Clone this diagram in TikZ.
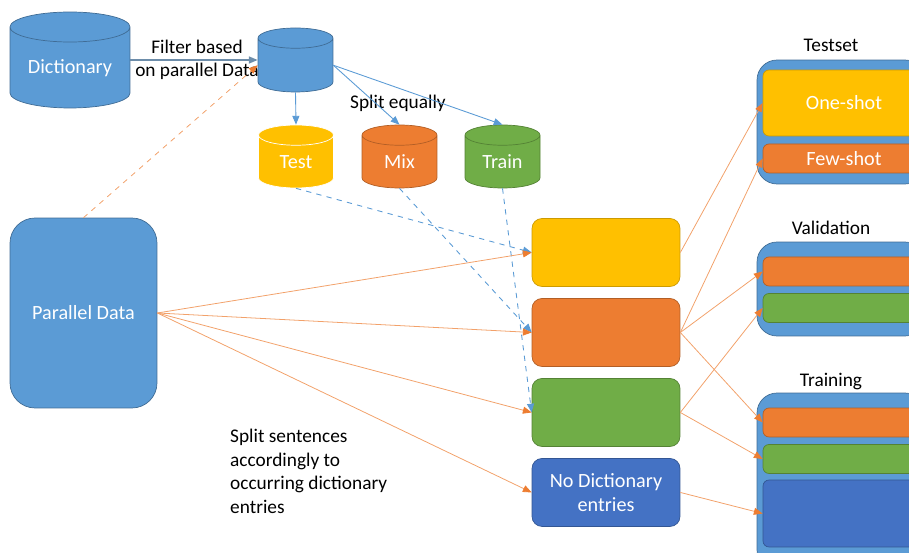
\documentclass[tikz,border=0pt]{standalone}
\usepackage{fontspec}
\setmainfont{Carlito}
\usetikzlibrary{shapes.geometric, arrows.meta, positioning}
\definecolor{mblue}{HTML}{5B9BD5}
\definecolor{dblue}{HTML}{4472C4}
\definecolor{myellow}{HTML}{FFC000}
\definecolor{morange}{HTML}{ED7D31}
\definecolor{mgreen}{HTML}{70AD47}
\definecolor{lorange}{HTML}{F4B183}
\tikzstyle{db} = [cylinder, shape border rotate=90, aspect=0.27, anchor=shape center, inner xsep=0pt, text width=1.5cm, align=center, draw=mblue!70!black, fill=mblue, text=white, font=\fontsize{11.5}{13}\selectfont]
\tikzstyle{block} = [rectangle, rounded corners=0.2cm, minimum width=2.96cm, minimum height=1.36cm, text centered, text=white, font=\fontsize{11.5}{13.4}\selectfont]
\tikzstyle{holder} = [rectangle, rounded corners=0.4cm, minimum width=3.36cm, draw=mblue!70!black, fill=mblue]
\tikzstyle{part} = [rectangle, rounded corners=0.12cm, minimum width=3.24cm, minimum height=0.58cm, text=white, font=\fontsize{11.5}{13}\selectfont]
\tikzstyle{title} = [font=\fontsize{11}{13.4}\selectfont, align=center]
\tikzstyle{arrow} = [-{Triangle[length=5pt,width=4pt]}]
\tikzstyle{splitline} = [-{Triangle[length=5pt,width=4pt,color=morange]}, lorange!70!morange, line width=0.45pt]
\tikzstyle{dbline} = [arrow, mblue, line width=0.5pt]

\begin{document}
\begin{tikzpicture}[x=0.02cm, y=-0.02cm, node distance=1.6cm]
        \useasboundingbox (0,0) rectangle (909,553);
        \begin{scope}
        \clip (0,0) rectangle (909,553);
        % sources
        \node (dict) [db, aspect=0.25, text width=2.4cm, minimum height=1.92cm] at (70,60) {Dictionary};
        \node (filt) [db, minimum height=1.28cm] at (295.5,60) {};
        \node (test) [db, draw=white, fill=myellow, minimum height=1.26cm] at (296,156.5) {Test};
        \node (mix) [db, draw=morange!75!black, fill=morange, minimum height=1.26cm] at (399.5,156.5) {Mix};
        \node (train) [db, draw=mgreen!75!black, fill=mgreen, minimum height=1.26cm] at (502.5,156.5) {Train};
        \node (par) [block, rounded corners=0.5cm, minimum width=2.94cm, minimum height=3.8cm, draw=mblue!70!black, fill=mblue] at (83.5,313) {Parallel Data};

        % split by dictionary entries
        \node (yel) [block, draw=myellow!80!black, fill=myellow] at (606,252.5) {};
        \node (ora) [block, draw=morange!75!black, fill=morange, below of = yel] {};
        \node (gre) [block, draw=mgreen!75!black, fill=mgreen, below of = ora] {};
        \node (nodict) [block, draw=dblue!75!black, fill=dblue, below of = gre, align=center] {No Dictionary\\entries};

        % sets on the right
        \node (testset) [holder, minimum height=2.48cm] at (841,122) {};
        \node (oneshot) [part, minimum height=1.32cm, draw=myellow!80!black, fill=myellow] at (844,103) {One-shot};
        \node (fewshot) [part, draw=morange!75!black, fill=morange] at (844,158.5) {Few-shot};
        \node (valset) [holder, minimum height=1.88cm] at (841,289) {};
        \node (valora) [part, draw=morange!75!black, fill=morange] at (844,271.5) {};
        \node (valgre) [part, draw=mgreen!75!black, fill=mgreen] at (844,308) {};
        \node (trset) [holder, minimum height=3.54cm] at (841,481.5) {};
        \node (trora) [part, draw=morange!75!black, fill=morange] at (844,422.5) {};
        \node (trgre) [part, draw=mgreen!75!black, fill=mgreen] at (844,459) {};
        \node (trblu) [part, minimum height=1.34cm, draw=dblue!75!black, fill=dblue] at (844,513.5) {};
        \end{scope}

        % titles and notes
        \node (ttest) [title] at (831,45) {Testset};
        \node (tval) [title] at (831,228) {Validation};
        \node (ttrain) [title] at (831,382) {Training};
        \node (filtlbl) [title] at (197,60) {Filter based\\on parallel Data};
        \node (splitlbl) [title] at (398,103) {Split equally};
        \node (notelbl) [title, align=left, anchor=north west] at (224,423) {Split sentences\\accordingly to\\occurring dictionary\\entries};

        % connectors
        \draw[arrow, mblue!50!gray, line width=0.8pt] (dict.shape center -| dict.east) -- (filt.shape center -| filt.west);
        \draw[splitline, dashed] (par.north) -- (filt.west);
        \draw[dbline] (filt.south) -- (test.north);
        \draw[dbline] (filt.east) -- (mix.north);
        \draw[dbline] (filt.east) -- (train.north);
        \draw[dbline, dashed] (test.south) -- (yel.west);
        \draw[dbline, dashed] (mix.south) -- (ora.west);
        \draw[dbline, dashed] (train.south) -- (gre.west);
        \draw[splitline] (par.east) -- (yel.west);
        \draw[splitline] (par.east) -- (ora.west);
        \draw[splitline] (par.east) -- (gre.west);
        \draw[splitline] (par.east) -- (nodict.west);
        \draw[splitline] (yel.east) -- (oneshot.west);
        \draw[splitline] (ora.east) -- (fewshot.west);
        \draw[splitline] (ora.east) -- (valora.west);
        \draw[splitline] (ora.east) -- (trora.west);
        \draw[splitline] (gre.east) -- (valgre.west);
        \draw[splitline] (gre.east) -- (trgre.west);
        \draw[splitline] (nodict.east) -- (trblu.west);
    \end{tikzpicture}
\end{document}
